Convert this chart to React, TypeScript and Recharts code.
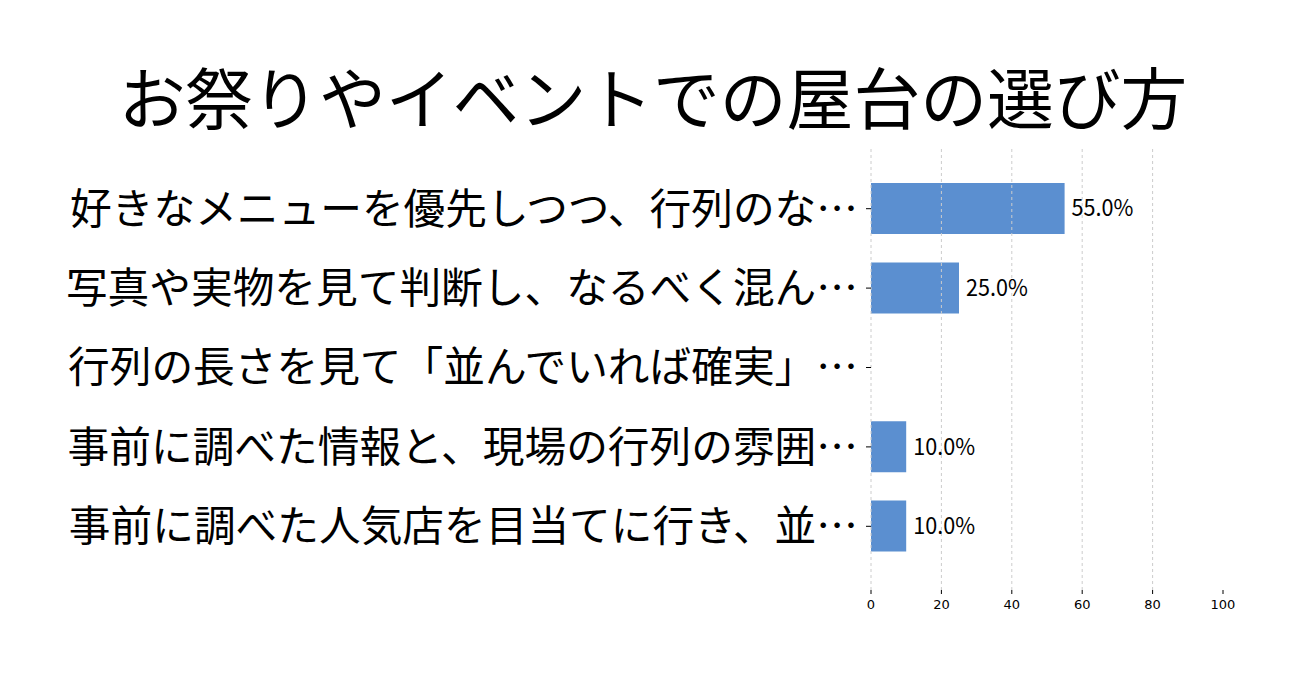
import React from 'react';
import { BarChart, Bar, XAxis, YAxis, ReferenceLine, LabelList } from 'recharts';

const categories = [
  '好きなメニューを優先しつつ、行列のな…',
  '写真や実物を見て判断し、なるべく混ん…',
  '行列の長さを見て「並んでいれば確実」…',
  '事前に調べた情報と、現場の行列の雰囲…',
  '事前に調べた人気店を目当てに行き、並…',
];
const values = [55, 25, 0, 10, 10];
const xTicks = [0, 20, 40, 60, 80, 100];
const gridValues = [0, 20, 40, 60, 80];
const title = 'お祭りやイベントでの屋台の選び方';

const data = categories.map((name, i) => ({ name, value: values[i] }));

const CJK = '"Noto Sans CJK JP", "Noto Sans", sans-serif';

const ValueLabel = (props: any) => {
  const { x, y, width, height, value } = props;
  if (!value) return null;
  const tx = Number(x) + Number(width) + 7;
  const ty = Number(y) + Number(height) / 2 - 2;
  return (
    <text
      transform={`translate(${tx},${ty}) scale(0.92,1)`}
      x={0}
      y={0}
      dominantBaseline="central"
      fontSize={23.5}
      fill="#000"
      fontFamily={CJK}
    >
      {Number(value).toFixed(1) + '%'}
    </text>
  );
};

export default function App() {
  return (
    <div style={{ position: 'absolute', left: 0, top: 0, width: 1306, height: 683, background: '#fff' }}>
      <div
        style={{
          position: 'absolute',
          left: 0,
          top: 62,
          width: 1306,
          textAlign: 'center',
          fontFamily: CJK,
          fontSize: 66.8,
          lineHeight: 1,
          color: '#000',
        }}
      >
        {title}
      </div>
      <BarChart
        width={1306}
        height={683}
        data={data}
        layout="vertical"
        margin={{ top: 147, right: 83, bottom: 0, left: 0 }}
        barCategoryGap={0}
      >
        {gridValues.map((v) => (
          <ReferenceLine key={v} x={v} stroke="#cccccc" strokeDasharray="3 3" strokeWidth={1} />
        ))}
        <XAxis
          type="number"
          domain={[0, 100]}
          ticks={xTicks}
          axisLine={false}
          tickLine={{ stroke: '#000' }}
          tickSize={4}
          tickMargin={6}
          tick={{ fontSize: 13, fill: '#000', fontFamily: '"DejaVu Sans", sans-serif' }}
          height={93}
        />
        <YAxis
          type="category"
          dataKey="name"
          width={871}
          axisLine={false}
          tickLine={{ stroke: '#000' }}
          tickSize={5}
          tickMargin={8}
          padding={{ top: 22, bottom: 24 }}
          interval={0}
          tick={{ fontSize: 41.7, fill: '#000', fontFamily: CJK }}
        />
        <Bar dataKey="value" fill="#5b8fd0" barSize={51} isAnimationActive={false}>
          <LabelList dataKey="value" content={ValueLabel} />
        </Bar>
      </BarChart>
    </div>
  );
}
